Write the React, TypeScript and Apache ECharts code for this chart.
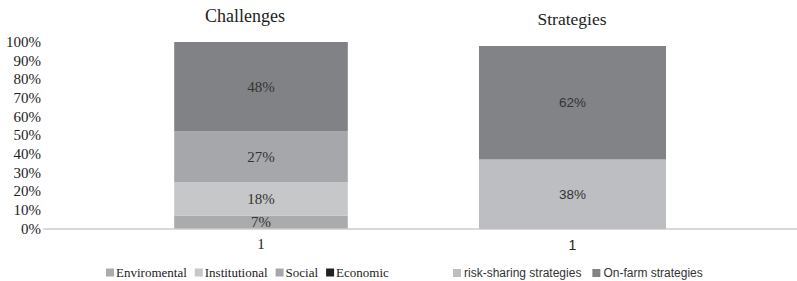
import React, { useEffect, useRef } from "react";
import * as echarts from "echarts";

const categories = ["1"];
const challengeNames = ["Enviromental", "Institutional", "Social", "Economic"];
const challengeValues = [7, 18, 27, 48];
const challengeColors = ["#aaabac", "#c6c7c9", "#a6a7aa", "#818286"];
const challengeLegendColors = ["#aaabac", "#c6c7c9", "#a6a7aa", "#222222"];
const strategyNames = ["risk-sharing strategies", "On-farm strategies"];
const strategyValues = [38, 62];
const strategyColors = ["#bdbec1", "#828387"];
const yTicks = [0, 100, 10];

const SERIF = "'Liberation Serif', 'Times New Roman', serif";
const SANS = "'Liberation Sans', 'Noto Sans', sans-serif";

export default function App() {
  const ref = useRef<HTMLDivElement>(null);
  useEffect(() => {
    if (!ref.current) return;
    const chart = echarts.init(ref.current, null, { renderer: "svg" });
    const series: any[] = [];
    challengeNames.forEach((n, i) => {
      series.push({
        name: n,
        type: "bar",
        stack: "c",
        xAxisIndex: 0,
        yAxisIndex: 0,
        data: [challengeValues[i]],
        barWidth: "40%",
        itemStyle: { color: challengeColors[i] },
        label: {
          show: true,
          position: "inside",
          formatter: "{c}%",
          fontFamily: SERIF,
          fontSize: 15,
          color: "#333",
        },
      });
    });
    strategyNames.forEach((n, i) => {
      series.push({
        name: n,
        type: "bar",
        stack: "s",
        xAxisIndex: 1,
        yAxisIndex: 1,
        data: [strategyValues[i]],
        barWidth: 187,
        itemStyle: { color: strategyColors[i] },
        label: {
          show: true,
          position: "inside",
          formatter: "{c}%",
          fontFamily: SANS,
          fontSize: 13.5,
          color: "#333",
        },
      });
    });
    chart.setOption({
      animation: false,
      graphic: [
        { type: "text", x: 245, y: 16, style: { text: "Challenges", align: "center", verticalAlign: "middle", font: "18px " + SERIF, fill: "#222" } },
        { type: "text", x: 572, y: 19, style: { text: "Strategies", align: "center", verticalAlign: "middle", font: "17.5px " + SERIF, fill: "#222" } },
      ],
      grid: [
        { left: 44, right: 319, top: 42, bottom: 52.5 },
        { left: 348, right: 0, top: 46, bottom: 52 },
      ],
      xAxis: [
        {
          type: "category", gridIndex: 0, data: categories,
          axisLine: { lineStyle: { color: "#d9d9d9", width: 2 } }, axisTick: { show: false },
          axisLabel: { fontFamily: SERIF, fontSize: 15, color: "#222", margin: 8 },
        },
        {
          type: "category", gridIndex: 1, data: categories,
          axisLine: { lineStyle: { color: "#d9d9d9", width: 2 } }, axisTick: { show: false },
          axisLabel: { fontFamily: SANS, fontSize: 14, color: "#222", margin: 9 },
        },
      ],
      yAxis: [
        {
          type: "value", gridIndex: 0, min: yTicks[0], max: yTicks[1], interval: yTicks[2],
          axisLine: { show: false }, axisTick: { show: false }, splitLine: { show: false },
          axisLabel: { formatter: "{value}%", fontFamily: SERIF, fontSize: 15, color: "#222", margin: 3 },
        },
        {
          type: "value", gridIndex: 1, min: yTicks[0], max: yTicks[1], interval: yTicks[2],
          show: false, splitLine: { show: false },
        },
      ],
      legend: [
        {
          data: challengeNames.map((n, i) => ({ name: n, itemStyle: { color: challengeLegendColors[i] } })),
          left: 101, top: 261, itemWidth: 8, itemHeight: 8, itemGap: 8, icon: "rect",
          textStyle: { fontFamily: SERIF, fontSize: 13, color: "#222", padding: [0, 0, 0, -3] },
        },
        {
          data: strategyNames,
          left: 448, top: 262, itemWidth: 8, itemHeight: 8, itemGap: 11, icon: "rect",
          textStyle: { fontFamily: SANS, fontSize: 12, color: "#333", padding: [0, 0, 0, -2] },
        },
      ],
      series,
    });
    return () => chart.dispose();
  }, []);
  return <div ref={ref} style={{ width: 797, height: 281, position: "absolute", left: 0, top: 0 }} />;
}
